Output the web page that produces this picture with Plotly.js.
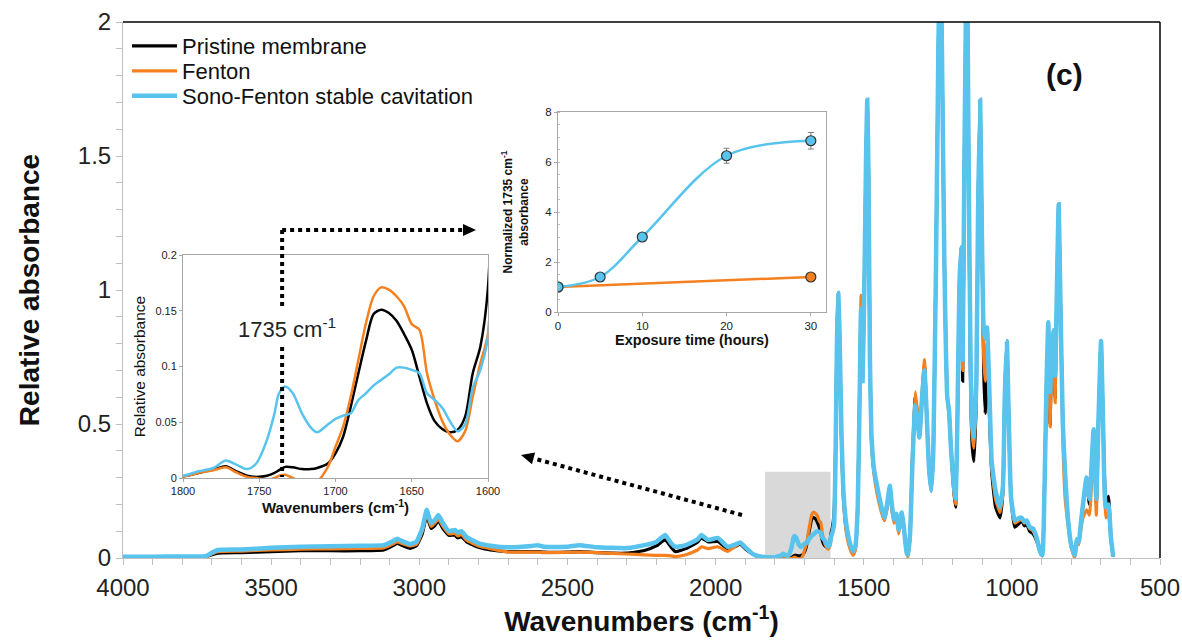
<!DOCTYPE html>
<html><head><meta charset="utf-8">
<script src="https://cdn.plot.ly/plotly-3.0.1.min.js"></script>
<style>html,body{margin:0;padding:0;background:#fff}#chart{width:1182px;height:644px}</style>
</head><body><div id="chart"></div>
<script>
const wavenumbers = [
4000,3900,3800,3720,3700,3680,3600,3500,3400,3300,
3200,3120,3090,3074,3060,3030,3010,2990,2975,2960,
2948,2935,2920,2900,2880,2870,2858,2840,2800,2760,
2700,2620,2600,2580,2500,2460,2400,2300,2240,2200,
2170,2150,2136,2100,2060,2048,2025,1992,1960,1935,
1917,1895,1870,1845,1820,1800,1790,1780,1772,1765,
1758,1752,1745,1740,1737,1733,1728,1722,1716,1712,
1705,1700,1695,1690,1685,1680,1675,1670,1665,1660,
1655,1650,1645,1640,1635,1630,1625,1620,1615,1610,
1605,1600,1595,1590,1586,1582,1575,1568,1558,1545,
1536,1528,1520,1514,1509,1504,1498,1492,1488,1484,
1479,1474,1465,1455,1440,1430,1420,1412,1405,1398,
1390,1382,1372,1365,1355,1350,1343,1336,1326,1320,
1312,1303,1295,1288,1280,1272,1265,1256,1248,1242,
1236,1228,1218,1212,1205,1196,1190,1184,1177,1171,
1166,1160,1152,1146,1140,1134,1128,1120,1114,1107,
1101,1095,1090,1084,1078,1068,1055,1040,1030,1024,
1017,1010,1003,990,975,967,958,950,940,928,
915,905,897,890,883,877,871,865,860,854,
848,842,836,828,820,810,800,788,780,774,
768,760,748,738,724,715,708,699,692,683,
674,666,658];

const pristine = [
.004,.004,.004,.005,.012,.018,.020,.024,.027,.027,
.027,.030,.045,.055,.048,.036,.045,.090,.158,.110,
.120,.138,.110,.085,.085,.075,.080,.060,.040,.030,
.024,.024,.024,.022,.022,.024,.020,.018,.028,.045,
.068,.040,.024,.035,.060,.075,.060,.062,.035,.042,
.052,.030,.012,.005,.003,.0015,.0045,.0075,.0105,.006,
.002,.001,.002,.0045,.007,.010,.0096,.008,.008,.009,
.013,.022,.037,.064,.094,.123,.147,.151,.148,.141,
.129,.115,.091,.067,.051,.044,.041,.043,.055,.094,
.118,.171,.40,.85,.99,.85,.45,.22,.10,.04,
.02,.04,.20,.60,.93,.66,1.0,1.5,1.71,1.45,
.74,.45,.32,.26,.18,.14,.20,.26,.19,.14,
.16,.10,.16,.12,.02,.01,.10,.35,.60,.55,
.45,.60,.72,.55,.34,.25,.40,1.1,1.9,2.3,
1.9,1.12,.60,.55,.40,.25,.19,.50,1.0,1.16,
.66,1.5,2.3,1.5,.70,.42,.36,.60,1.3,1.71,
1.2,.70,.54,.75,.60,.32,.19,.15,.25,.60,
.81,.50,.23,.115,.13,.14,.12,.125,.10,.09,
.06,.025,.01,.25,.65,.86,.50,.78,.84,.60,
1.0,1.32,.95,.50,.28,.14,.05,.01,.07,.06,
.12,.20,.28,.20,.48,.20,.50,.81,.50,.20,
.23,.08,.005];

const fenton = [
.004,.004,.004,.006,.016,.024,.026,.030,.033,.034,
.036,.038,.052,.060,.055,.045,.050,.100,.165,.118,
.130,.145,.118,.090,.092,.082,.088,.066,.045,.035,
.022,.022,.022,.020,.021,.022,.020,.015,.012,.010,
.010,.008,.005,.012,.030,.042,.035,.042,.025,.042,
.056,.035,.012,.005,.003,.0015,.0045,.007,.0096,.005,
.001,0,-.0015,0,.002,.003,0,-.003,-.004,-.003,
.010,.028,.046,.073,.106,.139,.163,.171,.169,.163,
.154,.138,.133,.094,.070,.051,.039,.033,.042,.073,
.103,.130,.38,.83,.99,.85,.45,.21,.09,.03,
.01,.03,.20,.62,.98,.70,1.0,1.5,1.71,1.45,
.74,.44,.31,.24,.17,.14,.19,.25,.18,.13,
.15,.09,.15,.11,.015,.005,.10,.37,.62,.56,
.45,.62,.74,.55,.34,.25,.40,1.1,1.9,2.3,
1.9,1.12,.60,.53,.40,.25,.20,.50,1.0,1.16,
.70,1.5,2.3,1.5,.75,.46,.41,.62,1.3,1.71,
1.2,.75,.66,.80,.65,.34,.22,.17,.25,.60,
.81,.50,.23,.13,.14,.145,.13,.135,.11,.10,
.065,.025,.008,.25,.65,.86,.49,.78,.84,.58,
1.0,1.32,.95,.45,.22,.12,.04,0,.06,.05,
.10,.15,.18,.16,.45,.16,.48,.81,.50,.15,
.17,.07,.005];

const sonoFenton = [
.005,.005,.006,.007,.020,.030,.032,.038,.042,.044,
.046,.048,.062,.072,.064,.052,.060,.110,.180,.130,
.142,.160,.130,.100,.105,.095,.100,.078,.055,.046,
.040,.045,.048,.042,.042,.048,.040,.037,.048,.060,
.086,.055,.042,.048,.070,.086,.067,.075,.042,.050,
.058,.035,.012,.005,.003,.002,.006,.009,.0156,.012,
.008,.013,.034,.058,.076,.082,.076,.058,.045,.041,
.048,.053,.056,.058,.070,.076,.083,.088,.093,.099,
.099,.097,.094,.076,.070,.063,.051,.042,.048,.081,
.097,.127,.38,.83,.99,.86,.47,.24,.12,.05,
.025,.045,.20,.58,.93,.66,1.0,1.5,1.71,1.45,
.74,.46,.33,.27,.19,.15,.21,.27,.20,.145,
.165,.105,.17,.12,.02,.012,.10,.34,.57,.53,
.45,.60,.70,.55,.34,.25,.40,1.1,1.9,2.3,
1.9,1.12,.60,.55,.40,.27,.22,.50,1.02,1.16,
.74,1.5,2.3,1.5,.80,.50,.45,.65,1.3,1.71,
1.2,.85,.82,.86,.70,.36,.25,.19,.27,.60,
.81,.50,.23,.14,.15,.15,.135,.14,.115,.11,
.07,.025,.01,.25,.65,.88,.62,.78,.85,.68,
1.0,1.32,.95,.50,.31,.14,.05,.01,.07,.06,
.12,.20,.30,.22,.48,.22,.50,.81,.50,.19,
.20,.08,.005];

// inset (exposure time) data
const exposureTime = [0, 5, 10, 20, 30];
const sonoNormalized = [1.0, 1.4, 3.0, 6.25, 6.85];
const sonoError = [0, 0, 0, 0.3, 0.33];
const fentonTime = [0, 30];
const fentonNormalized = [1.0, 1.4];

const seriesNames = ['Pristine membrane', 'Fenton', 'Sono-Fenton stable cavitation'];
const highlightBand = [1833, 1612, 0.322]; // x0, x1, top of grey box
const markedPeak = 1735;

const FONT = 'Liberation Sans, Arial, Helvetica, sans-serif';
const BLACK = '#000000', ORANGE = '#f58020', BLUE = '#58c4ee';

// plot-area pixel frame
const PL = 123, PR = 1160, PT = 22, PB = 558;
const dx = x => (x - PL) / (PR - PL);
const dy = y => (PB - y) / (PB - PT);

const inset1X = [dx(183), dx(488)], inset1Y = [dy(478), dy(255)];
const inset2X = [dx(558), dx(826)], inset2Y = [dy(312), dy(112)];
const inset1Range = [1800, 1600];

const colors = [BLACK, ORANGE, BLUE];
const ys = [pristine, fenton, sonoFenton];
const legendIds = ['legend', 'legend2', 'legend3'];
const traces = [];
ys.forEach((y, i) => {
  traces.push({x: wavenumbers, y: y, type: 'scatter', mode: 'lines', name: seriesNames[i], legend: legendIds[i],
    line: {color: colors[i], width: i === 2 ? 4.5 : 3.2, shape: 'spline', smoothing: 0.4},
    xaxis: 'x', yaxis: 'y', hoverinfo: 'skip'});
});
ys.forEach((y, i) => {
  traces.push({x: wavenumbers, y: y, type: 'scatter', mode: 'lines', showlegend: false,
    line: {color: colors[i], width: 2.5, shape: 'spline', smoothing: 0.8}, xaxis: 'x2', yaxis: 'y2', hoverinfo: 'skip'});
});
traces.push({x: fentonTime, y: fentonNormalized, type: 'scatter', mode: 'lines+markers', showlegend: false,
  line: {color: ORANGE, width: 2.5}, marker: {size: 10, color: ORANGE, line: {color: '#333', width: 1.2}},
  xaxis: 'x3', yaxis: 'y3'});
traces.push({x: exposureTime, y: sonoNormalized, type: 'scatter', mode: 'lines+markers', showlegend: false,
  line: {color: BLUE, width: 2.5, shape: 'spline', smoothing: 1},
  marker: {size: 10, color: BLUE, line: {color: '#333', width: 1.2}},
  error_y: {type: 'data', array: sonoError, visible: true, color: '#7f7f7f', thickness: 1, width: 3},
  xaxis: 'x3', yaxis: 'y3'});

const grey = '#bfbfbf';
const tickF = s => ({family: FONT, size: s, color: '#222'});

// dotted arrows
const dotted = {color: '#000', width: 4, dash: 'dot'};
const x1735 = inset1X[0] + (inset1Range[0] - markedPeak) / (inset1Range[0] - inset1Range[1]) * (inset1X[1] - inset1X[0]);
const arrowY = dy(230);
function head(tipPx, fromPx) {
  const vx = tipPx[0] - fromPx[0], vy = tipPx[1] - fromPx[1];
  const L = Math.hypot(vx, vy), ux = vx / L, uy = vy / L;
  const bx = tipPx[0] - ux * 13, by = tipPx[1] - uy * 13;
  const p1 = [bx + uy * 6, by - ux * 6], p2 = [bx - uy * 6, by + ux * 6];
  return {path: `M${dx(tipPx[0])},${dy(tipPx[1])} L${dx(p1[0])},${dy(p1[1])} L${dx(p2[0])},${dy(p2[1])} Z`, base: [bx, by]};
}
const h1 = head([476, 230], [282, 230]);
const h2 = head([521, 455], [742, 515]);

const shapes = [
  {type: 'rect', xref: 'x', yref: 'y', x0: highlightBand[0], x1: highlightBand[1], y0: 0, y1: highlightBand[2],
    fillcolor: '#d9d9d9', line: {width: 0}, layer: 'below'},
  {type: 'line', xref: 'paper', yref: 'paper', x0: 0, x1: 1, y0: 1, y1: 1, line: {color: '#000', width: 1.5}},
  {type: 'line', xref: 'paper', yref: 'paper', x0: 1, x1: 1, y0: 0, y1: 1, line: {color: '#000', width: 1.5}},
  {type: 'line', xref: 'paper', yref: 'paper', x0: x1735, x1: x1735, y0: arrowY, y1: dy(308), line: dotted},
  {type: 'line', xref: 'paper', yref: 'paper', x0: x1735, x1: x1735, y0: dy(347), y1: dy(477), line: dotted},
  {type: 'line', xref: 'paper', yref: 'paper', x0: x1735, x1: dx(h1.base[0]), y0: arrowY, y1: arrowY, line: dotted},
  {type: 'path', xref: 'paper', yref: 'paper', path: h1.path, fillcolor: '#000', line: {width: 0}},
  {type: 'line', xref: 'paper', yref: 'paper', x0: dx(742), y0: dy(515), x1: dx(h2.base[0]), y1: dy(h2.base[1]), line: dotted},
  {type: 'path', xref: 'paper', yref: 'paper', path: h2.path, fillcolor: '#000', line: {width: 0}}
];

const annotations = [
  {text: '<b>(c)</b>', xref: 'paper', yref: 'paper', x: dx(1064), y: dy(75), xanchor: 'center', yanchor: 'middle',
    showarrow: false, font: {family: FONT, size: 30, color: '#111'}},
  {text: markedPeak + ' cm<sup>-1</sup>', xref: 'paper', yref: 'paper', x: dx(287), y: dy(328),
    xanchor: 'center', yanchor: 'middle', showarrow: false, bgcolor: 'rgba(0,0,0,0)',
    font: {family: FONT, size: 22, color: '#222'}}
];

const legendBase = {x: dx(127), xanchor: 'left', yanchor: 'middle', bgcolor: 'rgba(0,0,0,0)',
  font: {family: FONT, size: 22, color: '#111'}, itemwidth: 45};

const layout = {
  width: 1182, height: 644,
  margin: {l: PL, r: 1182 - PR, t: PT, b: 644 - PB},
  paper_bgcolor: '#fff', plot_bgcolor: 'rgba(0,0,0,0)',
  font: {family: FONT, color: '#222'},
  showlegend: true,
  legend: Object.assign({}, legendBase, {y: dy(46)}),
  legend2: Object.assign({}, legendBase, {y: dy(71)}),
  legend3: Object.assign({}, legendBase, {y: dy(96)}),
  xaxis: {domain: [0, 1], range: [4000, 500], tick0: 500, dtick: 500, ticks: 'outside', ticklen: 6,
    tickcolor: grey, showline: true, linecolor: grey, linewidth: 1, showgrid: false, zeroline: false,
    tickfont: tickF(24), ticklabelstandoff: 2,
    minor: {dtick: 100, ticks: 'outside', ticklen: 6, tickcolor: grey, showgrid: false},
    title: {text: '<b>Wavenumbers (cm<sup>-1</sup>)</b>', font: {family: FONT, size: 28, color: '#111'}, standoff: 10},
    anchor: 'y'},
  yaxis: {domain: [0, 1], range: [0, 2], dtick: 0.5, ticks: 'outside', ticklen: 6, tickcolor: grey,
    showline: true, linecolor: grey, linewidth: 1, showgrid: false, zeroline: false, tickfont: tickF(24),
    minor: {dtick: 0.1, ticks: 'outside', ticklen: 6, tickcolor: grey, showgrid: false},
    title: {text: '<b>Relative absorbance</b>', font: {family: FONT, size: 28, color: '#111'}, standoff: 30},
    anchor: 'x'},
  xaxis2: {domain: inset1X, range: inset1Range, dtick: 50, ticks: 'outside', ticklen: 3, tickcolor: '#a6a6a6',
    showline: true, mirror: true, linecolor: '#a6a6a6', showgrid: false, zeroline: false, tickfont: tickF(11),
    title: {text: '<b>Wavenumbers (cm<sup>-1</sup>)</b>', font: {family: FONT, size: 15, color: '#111'}, standoff: 5},
    anchor: 'y2'},
  yaxis2: {domain: inset1Y, range: [0, 0.2], dtick: 0.05, ticks: 'outside', ticklen: 3, tickcolor: '#a6a6a6',
    showline: true, mirror: true, linecolor: '#a6a6a6', showgrid: false, zeroline: false, tickfont: tickF(11),
    title: {text: 'Relative absorbance', font: {family: FONT, size: 15.5, color: '#111'}, standoff: 5},
    anchor: 'x2'},
  xaxis3: {domain: inset2X, range: [0, 31.8], tick0: 0, dtick: 10, ticks: 'outside', ticklen: 3, tickcolor: '#a6a6a6',
    showline: true, mirror: true, linecolor: '#a6a6a6', showgrid: false, zeroline: false, tickfont: tickF(11.5),
    title: {text: '<b>Exposure time (hours)</b>', font: {family: FONT, size: 14.5, color: '#111'}, standoff: 4},
    anchor: 'y3'},
  yaxis3: {domain: inset2Y, range: [0, 8], dtick: 2, ticks: 'outside', ticklen: 3, tickcolor: '#a6a6a6',
    showline: true, mirror: true, linecolor: '#a6a6a6', showgrid: false, zeroline: false, tickfont: tickF(11.5),
    minor: {dtick: 0.5, ticks: 'inside', ticklen: 2, tickcolor: '#bfbfbf', showgrid: false},
    title: {text: '<b>Normalized ' + markedPeak + ' cm<sup>-1</sup><br>absorbance</b>', font: {family: FONT, size: 12, color: '#111'}, standoff: 14},
    anchor: 'x3'},
  shapes: shapes,
  annotations: annotations
};

Plotly.newPlot('chart', traces, layout, {staticPlot: true, displayModeBar: false});
</script>
</body></html>
